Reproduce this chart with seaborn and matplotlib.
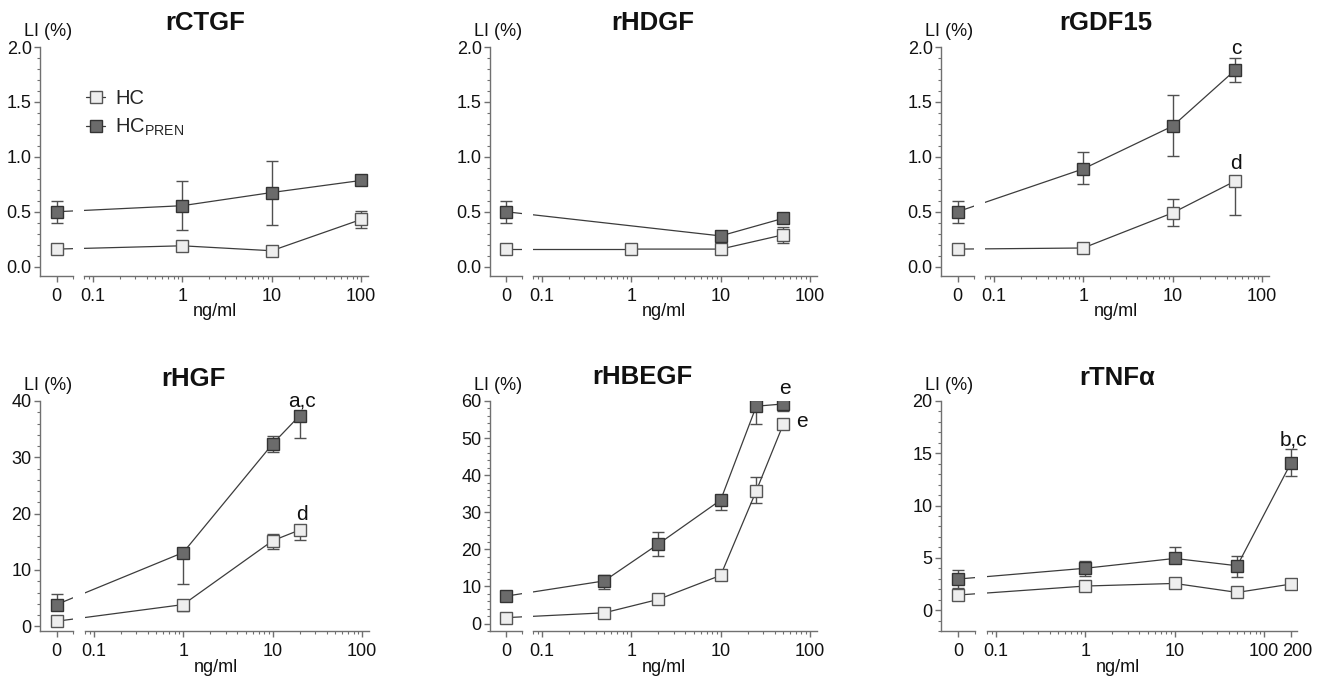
import numpy as np
import pandas as pd
import matplotlib
matplotlib.use("Agg")
import matplotlib.pyplot as plt
import seaborn as sns
from matplotlib.lines import Line2D
from matplotlib.ticker import (FixedLocator, FixedFormatter, LogLocator,
                               NullFormatter, MultipleLocator, FormatStrFormatter)

# ---------------- data ----------------
titles = ["rCTGF", "rHDGF", "rGDF15", "rHGF", "rHBEGF", "rTNF\u03b1"]

conc_hc = [[0, 1, 10, 100], [0, 1, 10, 50], [0, 1, 10, 50],
           [0, 1, 10, 20], [0, 0.5, 2, 10, 25, 50], [0, 1, 10, 50, 200]]
conc_pren = [[0, 1, 10, 100], [0, 10, 50], [0, 1, 10, 50],
             [0, 1, 10, 20], [0, 0.5, 2, 10, 25, 50], [0, 1, 10, 50, 200]]

hc_mean = [[0.16, 0.19, 0.145, 0.43], [0.16, 0.16, 0.16, 0.29],
           [0.16, 0.17, 0.49, 0.78], [0.9, 3.86, 15.2, 17.1],
           [1.6, 2.9, 6.5, 13.0, 35.8, 53.7], [1.44, 2.3, 2.55, 1.69, 2.49]]
hc_low = [[0.16, 0.19, 0.145, 0.35], [0.16, 0.16, 0.16, 0.215],
          [0.16, 0.17, 0.37, 0.47], [0.9, 2.7, 13.8, 15.3],
          [1.6, 2.9, 6.5, 13.0, 32.4, 53.7], [1.44, 2.3, 2.55, 1.69, 2.49]]
hc_high = [[0.16, 0.19, 0.145, 0.51], [0.16, 0.16, 0.16, 0.36],
           [0.16, 0.17, 0.62, 0.78], [0.9, 4.6, 16.4, 17.1],
           [1.6, 2.9, 6.5, 13.0, 39.4, 53.7], [1.44, 2.3, 2.55, 1.69, 2.49]]

pren_mean = [[0.50, 0.555, 0.675, 0.785], [0.50, 0.28, 0.44],
             [0.50, 0.89, 1.28, 1.79], [3.86, 13.1, 32.4, 37.4],
             [7.4, 11.5, 21.4, 33.3, 58.6, 59.2], [2.97, 4.0, 4.94, 4.24, 14.1]]
pren_low = [[0.40, 0.33, 0.38, 0.785], [0.40, 0.28, 0.40],
            [0.40, 0.75, 1.005, 1.68], [3.86, 7.5, 30.9, 33.5],
            [7.4, 9.4, 18.2, 30.6, 53.7, 57.2], [2.1, 3.25, 4.94, 3.19, 12.8]]
pren_high = [[0.60, 0.78, 0.96, 0.785], [0.60, 0.28, 0.47],
             [0.60, 1.045, 1.56, 1.90], [5.8, 13.1, 33.8, 37.4],
             [7.4, 13.2, 24.6, 33.3, 58.6, 59.2], [3.83, 4.7, 6.06, 5.2, 15.4]]

y_limits = [(-0.085, 2.0), (-0.085, 2.0), (-0.085, 2.0), (-0.83, 40), (-2, 60), (-2, 20)]
y_major = [0.5, 0.5, 0.5, 10, 10, 5]
y_minor = [0.1, 0.1, 0.1, 2, 2, 1]
y_fmt = ["%.1f", "%.1f", "%.1f", "%d", "%d", "%d"]
x_limits = [(0.08, 120)] * 5 + [(0.08, 230)]
x_ticks = [[0.1, 1, 10, 100]] * 5 + [[0.1, 1, 10, 100, 200]]
x_ticklabels = [["0.1", "1", "10", "100"]] * 5 + [["0.1", "1", "10", "100", ""]]
extra_xlabels = [(5, 200, "200")]  # label drawn slightly offset to avoid crowding

# significance letters: (panel, x, y, text)
sig_labels = [(2, 51, 1.99, "c"), (2, 51, 0.94, "d"),
              (3, 21, 40.0, "a,c"), (3, 21, 19.8, "d"),
              (4, 52, 63.4, "e"), (4, 80, 54.4, "e"),
              (5, 211, 16.3, "b,c")]

legend_labels = ["HC", r"HC$_{\mathregular{PREN}}$"]

# ---------------- layout (pixels) ----------------
W, H = 1320, 678
DEC = 89.5  # pixels per decade
rows = [(47, 276), (401, 631)]
seg0 = [(40, 73), (490, 522), (941, 974), (40, 73), (490, 522), (941, 975)]
seg1_left = [84, 533, 985, 85, 533, 987]
title_pos = [(205, 23), (653, 23), (1106, 23), (193, 379), (642, 377), (1117, 378)]

SPINE = "#707070"
LINE = "#3c3c3c"
ERR = "#505050"
TEXT = "#111111"
DARK_FILL, DARK_EDGE = "#6b6b6b", "#333333"
LIGHT_FILL, LIGHT_EDGE = "#eeeeee", "#555555"
MS = 8.3
TICK_FS = 13

sns.set_style("ticks")
plt.rcParams["font.family"] = ["Liberation Sans", "DejaVu Sans"]
plt.rcParams["mathtext.fontset"] = "custom"
plt.rcParams["mathtext.rm"] = "Liberation Sans"
plt.rcParams["axes.linewidth"] = 1.0

fig = plt.figure(figsize=(W / 100, H / 100), dpi=100)
fig.patch.set_facecolor("white")

series_style = [
    dict(fill=LIGHT_FILL, edge=LIGHT_EDGE),
    dict(fill=DARK_FILL, edge=DARK_EDGE),
]


def style_ticks(ax):
    ax.tick_params(which="major", direction="out", length=4.5, width=1.0,
                   color=SPINE, labelsize=TICK_FS, labelcolor=TEXT,
                   bottom=True, left=True)
    ax.tick_params(which="minor", direction="out", length=2.5, width=0.8,
                   color=SPINE, bottom=True, left=True)
    for s in ax.spines.values():
        s.set_color(SPINE)
        s.set_linewidth(1.0)


for i in range(6):
    r = i // 3
    top, bot = rows[r]
    x0l, x0r = seg0[i]
    xmin, xmax = x_limits[i]
    w1 = (np.log10(xmax) - np.log10(xmin)) * DEC
    ax0 = fig.add_axes([x0l / W, 1 - bot / H, (x0r - x0l) / W, (bot - top) / H])
    ax1 = fig.add_axes([seg1_left[i] / W, 1 - bot / H, w1 / W, (bot - top) / H])
    for ax in (ax0, ax1):
        ax.set_facecolor("none")
        ax.set_ylim(*y_limits[i])
        style_ticks(ax)
        ax.spines["top"].set_visible(False)
        ax.spines["right"].set_visible(False)
    ax0.set_xlim(-1, 1)
    ax0.xaxis.set_major_locator(FixedLocator([0]))
    ax0.xaxis.set_major_formatter(FixedFormatter(["0"]))
    ax0.xaxis.set_minor_locator(FixedLocator([1]))
    ax0.yaxis.set_major_locator(MultipleLocator(y_major[i]))
    ax0.yaxis.set_minor_locator(MultipleLocator(y_minor[i]))
    ax0.yaxis.set_major_formatter(FormatStrFormatter(y_fmt[i]))
    ax0.tick_params(axis="y", pad=1.5)
    ax0.tick_params(axis="x", pad=4)

    ax1.set_xscale("log")
    ax1.set_xlim(xmin, xmax)
    ax1.spines["left"].set_visible(False)
    ax1.tick_params(axis="y", which="both", left=False, labelleft=False)
    ax1.xaxis.set_major_locator(FixedLocator(x_ticks[i]))
    ax1.xaxis.set_major_formatter(FixedFormatter(x_ticklabels[i]))
    ax1.xaxis.set_minor_locator(LogLocator(base=10, subs=np.arange(2, 10), numticks=20))
    ax1.xaxis.set_minor_formatter(NullFormatter())
    ax1.tick_params(axis="x", pad=4)

    for (pi, lx, txt) in extra_xlabels:
        if pi == i:
            ax1.annotate(txt, xy=(lx, 0), xycoords=ax1.get_xaxis_transform(),
                         xytext=(4.5, -8.5), textcoords="offset points",
                         ha="center", va="top", fontsize=TICK_FS, color=TEXT)

    groups = [(conc_hc[i], hc_mean[i], hc_low[i], hc_high[i]),
              (conc_pren[i], pren_mean[i], pren_low[i], pren_high[i])]
    for g, (xs, ms, lo, hi) in enumerate(groups):
        st = series_style[g]
        df = pd.DataFrame({"conc": xs, "mean": ms, "low": lo, "high": hi})
        zero = df[df["conc"] == 0]
        pos = df[df["conc"] > 0]
        z = 3 + g * 0.1
        # stub lines linking the zero point with the first dose, across the break
        y0 = zero["mean"].iloc[0]
        xf, yf = pos["conc"].iloc[0], pos["mean"].iloc[0]
        p_in0 = ax0.transData.inverted().transform(ax1.transData.transform((xf, yf)))
        p_in1 = ax1.transData.inverted().transform(ax0.transData.transform((0, y0)))
        ax0.plot([0, p_in0[0]], [y0, p_in0[1]], color=LINE, lw=0.9, zorder=1.5)
        ax1.plot([p_in1[0], xf], [p_in1[1], yf], color=LINE, lw=0.9, zorder=1.5)
        for ax, d in ((ax0, zero), (ax1, pos)):
            ax.errorbar(d["conc"], d["mean"],
                        yerr=[d["mean"] - d["low"], d["high"] - d["mean"]],
                        fmt="none", ecolor=ERR, elinewidth=1.0, capsize=4,
                        capthick=1.0, zorder=2)
            sns.lineplot(data=d, x="conc", y="mean", ax=ax, color=LINE, lw=0.9,
                         marker="s", markersize=MS, markerfacecolor=st["fill"],
                         markeredgecolor=st["edge"], markeredgewidth=1.0,
                         errorbar=None, legend=False, zorder=z)
        ax0.set_xlim(-1, 1)
        ax1.set_xlim(xmin, xmax)
    for ax in (ax0, ax1):
        ax.set_xlabel("")
        ax.set_ylabel("")

    ax0.annotate("LI (%)", xy=(0, 1), xycoords="axes fraction", xytext=(-16, 15),
                 textcoords="offset pixels", ha="left", va="center", fontsize=13,
                 color=TEXT)
    ax1.annotate("ng/ml", xy=(2.3, 0), xycoords=ax1.get_xaxis_transform(),
                 xytext=(0, -36), textcoords="offset pixels", ha="center", va="center",
                 fontsize=13, color=TEXT)
    tx, ty = title_pos[i]
    fig.text(tx / W, 1 - ty / H, titles[i], ha="center", va="center",
             fontsize=18.5, fontweight="bold", color=TEXT)

    for (pi, lx, ly, txt) in sig_labels:
        if pi == i:
            ax1.text(lx, ly, txt, ha="center", va="center", fontsize=15,
                     color=TEXT, zorder=5)

    if i == 0:
        handles = [Line2D([], [], color=LINE, lw=0.9, marker="s", markersize=MS,
                          markerfacecolor=s["fill"], markeredgecolor=s["edge"],
                          markeredgewidth=1.0) for s in series_style]
        fig.legend(handles, legend_labels, loc="upper left",
                   bbox_to_anchor=(86 / W, 1 - 89 / H), bbox_transform=fig.transFigure,
                   frameon=False, fontsize=14.5, handlelength=0.95, handletextpad=0.5,
                   labelspacing=0.45, borderpad=0, borderaxespad=0)

fig.savefig("out.png", dpi=100, facecolor="white")
